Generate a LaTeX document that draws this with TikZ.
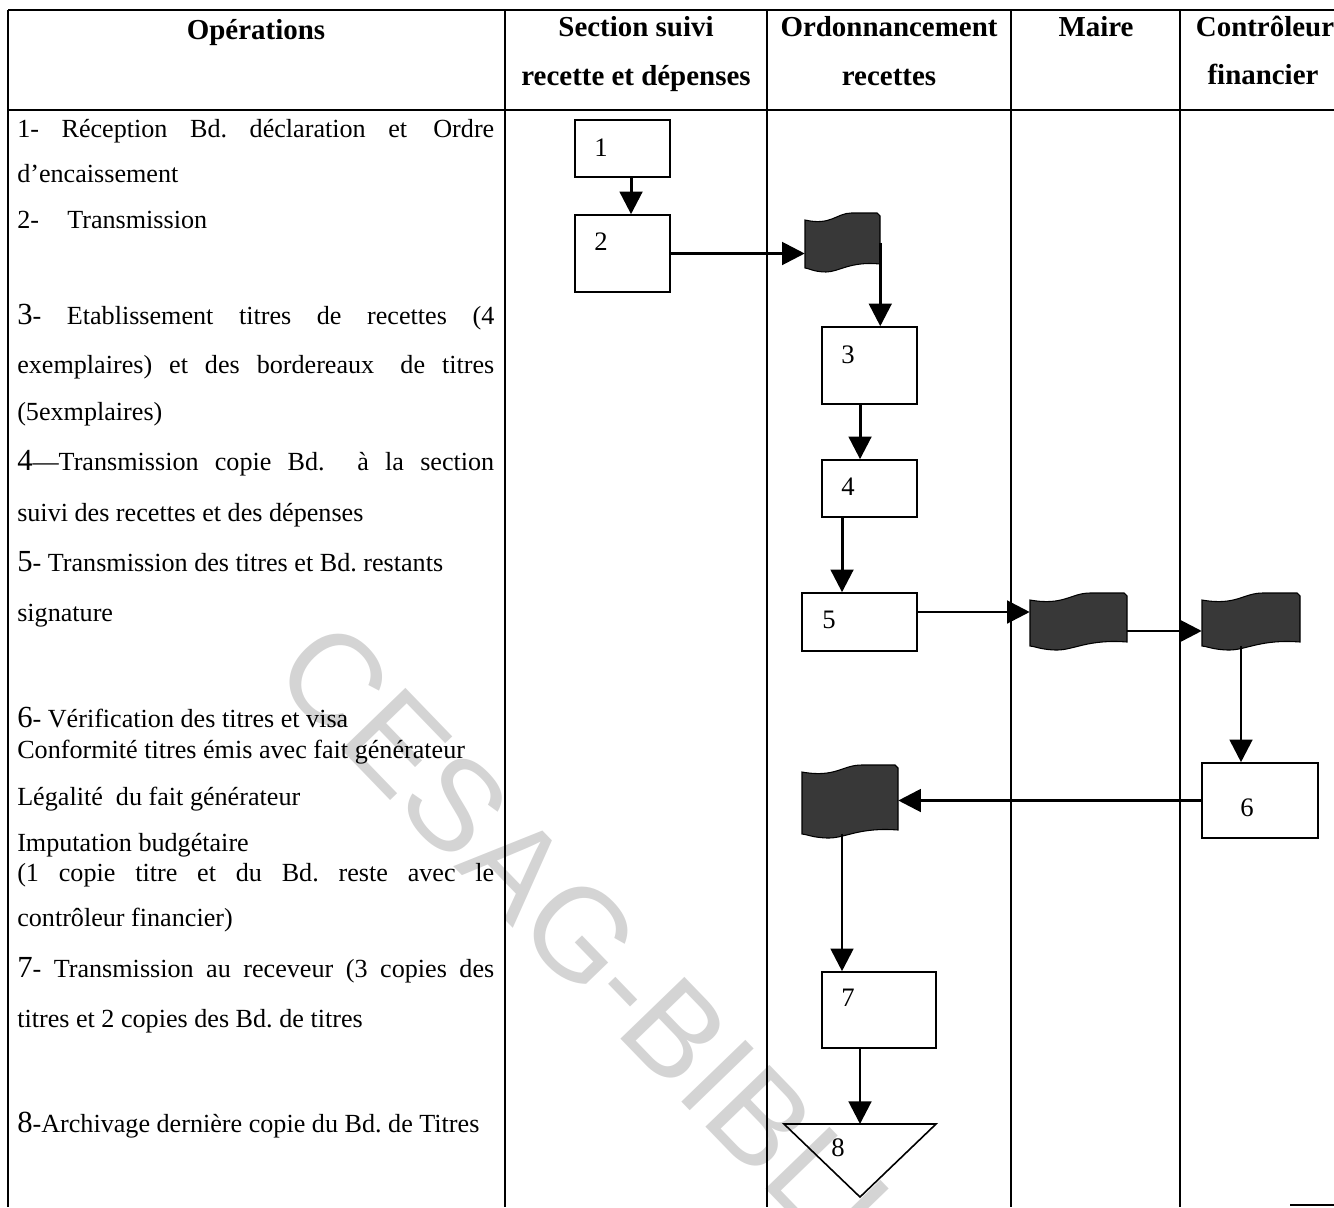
\documentclass[tikz,border=0pt]{standalone}
\usepackage{fontspec}
\setmainfont{Liberation Serif}
\newfontfamily\wmfont{Liberation Sans}
\usetikzlibrary{arrows.meta,calc}
\frenchspacing

% rectangular processing step: name, x0, y0, x1, y1
\newcommand\procbox[5]{%
  \node[stepbox, minimum width={(#4-#2)*0.75pt}, minimum height={(#5-#3)*0.75pt}]
    (#1) at ({(#2+#4)/2},{(#3+#5)/2}) {};}
% wavy document symbol: name, x0, y0, x1, y1
\newcommand\docflag[5]{%
  \node[inner sep=0pt, minimum width={(#4-#2)*0.75pt}, minimum height={(#5-#3)*0.75pt}]
    (#1) at ({(#2+#4)/2},{(#3+#5)/2}) {};
  \filldraw[flagfill]
    ({#2},{#3+7}) .. controls ({#2+0.35*(#4-#2)},{#3+13}) and ({#2+0.42*(#4-#2)},{#3}) .. ({#2+0.62*(#4-#2)},{#3})
    -- ({#4-3},{#3}) -- ({#4},{#3+3}) -- ({#4},{#5-8})
    .. controls ({#2+0.6*(#4-#2)},{#5-11}) and ({#2+0.45*(#4-#2)},{#5}) .. ({#2+0.28*(#4-#2)},{#5})
    .. controls ({#2+0.12*(#4-#2)},{#5}) and ({#2+0.04*(#4-#2)},{#5-4}) .. ({#2},{#5-4}) -- cycle;}
\newcommand\bign[1]{{\fontsize{23}{24}\selectfont #1}}

\begin{document}
\begin{tikzpicture}[x=0.75pt,y=-0.75pt,
  grid/.style={line width=0.9pt},
  stepbox/.style={draw, line width=1.2pt, inner sep=0pt},
  conn/.style={line width=2.2pt, -{Triangle[length=17pt,width=17pt]}},
  flagfill/.style={fill=black!78, draw=black, line width=0.8pt},
  optext/.style={anchor=base west, inner sep=0pt, font=\fontsize{19.6}{22}\selectfont},
  head/.style={anchor=base, inner sep=0pt, font=\bfseries\fontsize{21.7}{24}\selectfont},
  num/.style={inner sep=0pt, font=\fontsize{20}{22}\selectfont},
]
\useasboundingbox (0,0) rectangle (1334,1207);
\clip (0,0) rectangle (1334,1207);

% watermark
\node[rotate=-46, anchor=west, inner sep=0pt, text=black!17,
      font=\wmfont\fontsize{97}{97}\selectfont] (wm) at (301,644) {CESAG-BIBLIO};

% table rules
\draw[grid] (8,10) -- (1334,10);
\draw[grid] (8,110) -- (1334,110);
\draw[grid] (8,10) -- (8,1207);
\draw[grid] (505,10) -- (505,1207);
\draw[grid] (767,10) -- (767,1207);
\draw[grid] (1011,10) -- (1011,1207);
\draw[grid] (1180,10) -- (1180,1207);
\draw[grid] (1290,1205) -- (1334,1205);

% column headings
\node[head] (h1) at (256,39) {Opérations};
\node[head] (h2a) at (636,36) {Section suivi};
\node[head] (h2b) at (636,85) {recette et dépenses};
\node[head] (h3a) at (889,36) {Ordonnancement};
\node[head] (h3b) at (889,85) {recettes};
\node[head] (h4) at (1096,36) {Maire};
\node[head] (h5a) at (1265,36) {Contrôleur};
\node[head] (h5b) at (1263,84) {financier};

% operations column
\node[optext] (o1) at (17,137) {\makebox[357.75pt][s]{1- Réception Bd. déclaration et\quad Ordre}};
\node[optext] (o2) at (17,182) {d’encaissement};
\node[optext] (o3) at (17,228) {\makebox[37.5pt][l]{2-}Transmission};
\node[optext] (o4) at (17,324) {\makebox[357.75pt][s]{\bign{3}- Etablissement titres de recettes (4}};
\node[optext] (o5) at (17,373) {\makebox[357.75pt][s]{exemplaires) et des bordereaux\quad de titres}};
\node[optext] (o6) at (17,420) {(5exmplaires)};
\node[optext] (o7) at (17,470) {\makebox[357.75pt][s]{\bign{4}—Transmission copie Bd.\ \ à la section}};
\node[optext] (o8) at (17,521) {suivi des recettes et des dépenses};
\node[optext] (o9) at (17,571) {\bign{5}- Transmission des titres et Bd. restants};
\node[optext] (o10) at (17,621) {signature};
\node[optext] (o11) at (17,727) {\bign{6}- Vérification des titres et visa};
\node[optext] (o12) at (17,758) {Conformité titres émis avec fait générateur};
\node[optext] (o13) at (17,805) {Légalité\ \ du fait générateur};
\node[optext] (o14) at (17,851) {Imputation budgétaire};
\node[optext] (o15) at (17,881) {\makebox[357.75pt][s]{(1 copie titre et du Bd. reste avec le}};
\node[optext] (o16) at (17,926) {contrôleur financier)};
\node[optext] (o17) at (17,977) {\makebox[357.75pt][s]{\bign{7}- Transmission au receveur (3 copies des}};
\node[optext] (o18) at (17,1027) {titres et 2 copies des Bd. de titres};
\node[optext] (o19) at (17,1132) {\bign{8}-Archivage dernière copie du Bd. de Titres};

% flow symbols
\procbox{b1}{575}{120}{670}{177}
\procbox{b2}{575}{215}{670}{292}
\docflag{f1}{805}{213}{880}{272}
\procbox{b3}{822}{327}{917}{404}
\procbox{b4}{822}{460}{917}{517}
\procbox{b5}{802}{593}{917}{651}
\docflag{f2}{1030}{593}{1127}{650}
\docflag{f3}{1202}{593}{1300}{650}
\procbox{b6}{1202}{763}{1318}{838}
\docflag{f4}{802}{765}{898}{838}
\procbox{b7}{822}{972}{936}{1048}
\draw[line width=1.2pt] (784,1124) -- (936,1124) -- (860,1197) -- cycle;
\coordinate (t8) at (860,1124);

% step numbers
\node[num] (n1) at (601,148) {1};
\node[num] (n2) at (601,242) {2};
\node[num] (n3) at (848,355) {3};
\node[num] (n4) at (848,487) {4};
\node[num] (n5) at (829,620) {5};
\node[num] (n6) at (1247,808) {6};
\node[num] (n7) at (848,998) {7};
\node[num] (n8) at (838,1148) {8};

% connectors
\draw[conn] ([xshift=6.4pt]b1.south) -- ([xshift=6.4pt]b2.north);
\draw[conn] (b2.east) -- (b2.east -| f1.west);
\draw[conn] (f1.east) -- (f1.east |- b3.north);
\draw[conn] ([xshift=-7.1pt]b3.south) -- ([xshift=-7.1pt]b4.north);
\draw[conn] ([xshift=-20.6pt]b4.south) -- ([xshift=-20.6pt]b4.south |- b5.north);
\draw[conn] ([yshift=7.5pt]b5.east) -- ([yshift=7.5pt]b5.east -| f2.west);
\draw[conn] ([yshift=-7.1pt]f2.east) -- ([yshift=-7.1pt]f2.east -| f3.west);
\draw[conn] ([xshift=-7.5pt,yshift=-18pt]f3.center) -- ([xshift=-7.5pt]f3.center |- b6.north);
\draw[conn] (b6.west) -- (b6.west -| f4.east);
\draw[conn] ([xshift=-6pt,yshift=-24pt]f4.center) -- ([xshift=-6pt]f4.center |- b7.north);
\draw[conn] ([xshift=-14.25pt]b7.south) -- (t8);
\end{tikzpicture}
\end{document}
